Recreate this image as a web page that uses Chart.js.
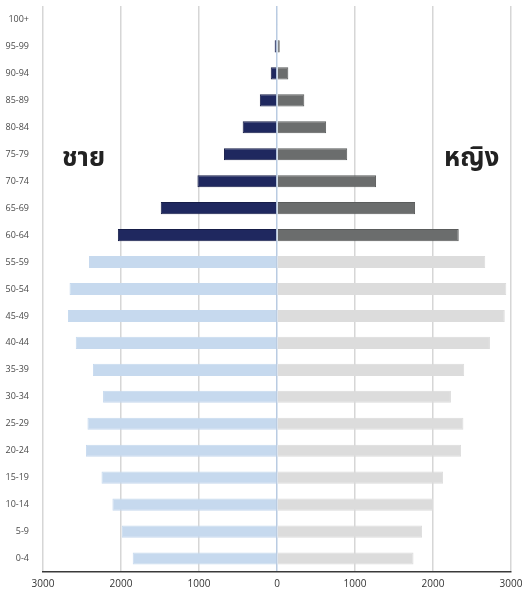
<!DOCTYPE html>
<html>
<head>
<meta charset="utf-8">
<script src="https://cdn.jsdelivr.net/npm/chart.js@4/dist/chart.umd.min.js"></script>
<style>
  html, body { margin: 0; padding: 0; background: #fff; }
  #wrap { position: relative; width: 524px; height: 596px; }
  .side { position: absolute; top: 138px; font-family: "Noto Sans Thai", "Noto Sans", "DejaVu Sans", sans-serif; font-size: 26px; font-weight: bold; color: #222; }
</style>
</head>
<body>
<div id="wrap">
  <canvas id="pyramid" width="524" height="596"></canvas>
  <div class="side" style="left:62px">ชาย</div>
  <div class="side" style="left:444px">หญิง</div>
</div>
<script>
// age groups, youngest first
const ageGroups = ['0-4', '5-9', '10-14', '15-19', '20-24', '25-29', '30-34', '35-39', '40-44', '45-49', '50-54', '55-59', '60-64', '65-69', '70-74', '75-79', '80-84', '85-89', '90-94', '95-99', '100+'];
const male = [1850, 1990, 2110, 2250, 2450, 2430, 2230, 2360, 2580, 2680, 2660, 2410, 2040, 1490, 1020, 680, 440, 220, 80, 30, 10];
const female = [1750, 1860, 2000, 2130, 2360, 2390, 2230, 2400, 2730, 2920, 2940, 2670, 2330, 1770, 1270, 900, 630, 350, 145, 35, 8];
const xTicks = [-3000, -2000, -1000, 0, 1000, 2000, 3000];

const elderlyFrom = ageGroups.indexOf('60-64');

function barColor(young, old) {
  return ctx => ctx.dataIndex >= elderlyFrom ? old : young;
}

new Chart(document.getElementById('pyramid'), {
  type: 'bar',
  data: {
    labels: ageGroups,
    datasets: [{
      label: 'ชาย',
      data: male.map(v => -v),
      backgroundColor: barColor('#c6d9ee', '#1f285f'),
      borderColor: barColor('#c6d9ee', '#161d48'),
      borderWidth: 1,
      barPercentage: 0.45,
      categoryPercentage: 1
    }, {
      label: 'หญิง',
      data: female,
      backgroundColor: barColor('#dcdcdc', '#6b6d6d'),
      borderColor: barColor('#dcdcdc', '#5a5c5c'),
      borderWidth: 1,
      barPercentage: 0.45,
      categoryPercentage: 1
    }]
  },
  options: {
    indexAxis: 'y',
    responsive: false,
    animation: false,
    layout: { padding: { top: 6, right: 13, left: 0, bottom: 0 } },
    plugins: {
      legend: { display: false },
      tooltip: { enabled: false }
    },
    scales: {
      x: {
        stacked: true,
        min: -3000,
        max: 3000,
        afterBuildTicks: axis => { axis.ticks = xTicks.map(v => ({ value: v })); },
        afterFit: axis => {
          axis.height = 24;
          axis.paddingLeft = 0;
          axis.paddingRight = 0;
        },
        grid: {
          color: ctx => ctx.tick && ctx.tick.value === 0 ? '#b9cbe2' : '#d6d6d6',
          lineWidth: 1.5,
          drawTicks: false
        },
        border: { display: true, color: '#3a3a3a', width: 1.5 },
        ticks: {
          callback: v => Math.abs(v),
          color: '#333',
          font: { family: 'Open Sans', size: 10 },
          padding: 6,
          maxRotation: 0
        }
      },
      y: {
        stacked: true,
        reverse: true,
        afterFit: axis => {
          axis.width = 43;
          axis.paddingTop = 0;
          axis.paddingBottom = 0;
        },
        grid: { display: false },
        border: { display: false },
        ticks: {
          color: '#4a4a4a',
          font: { family: 'Open Sans', size: 9 },
          padding: 6
        }
      }
    }
  }
});
</script>
</body>
</html>
